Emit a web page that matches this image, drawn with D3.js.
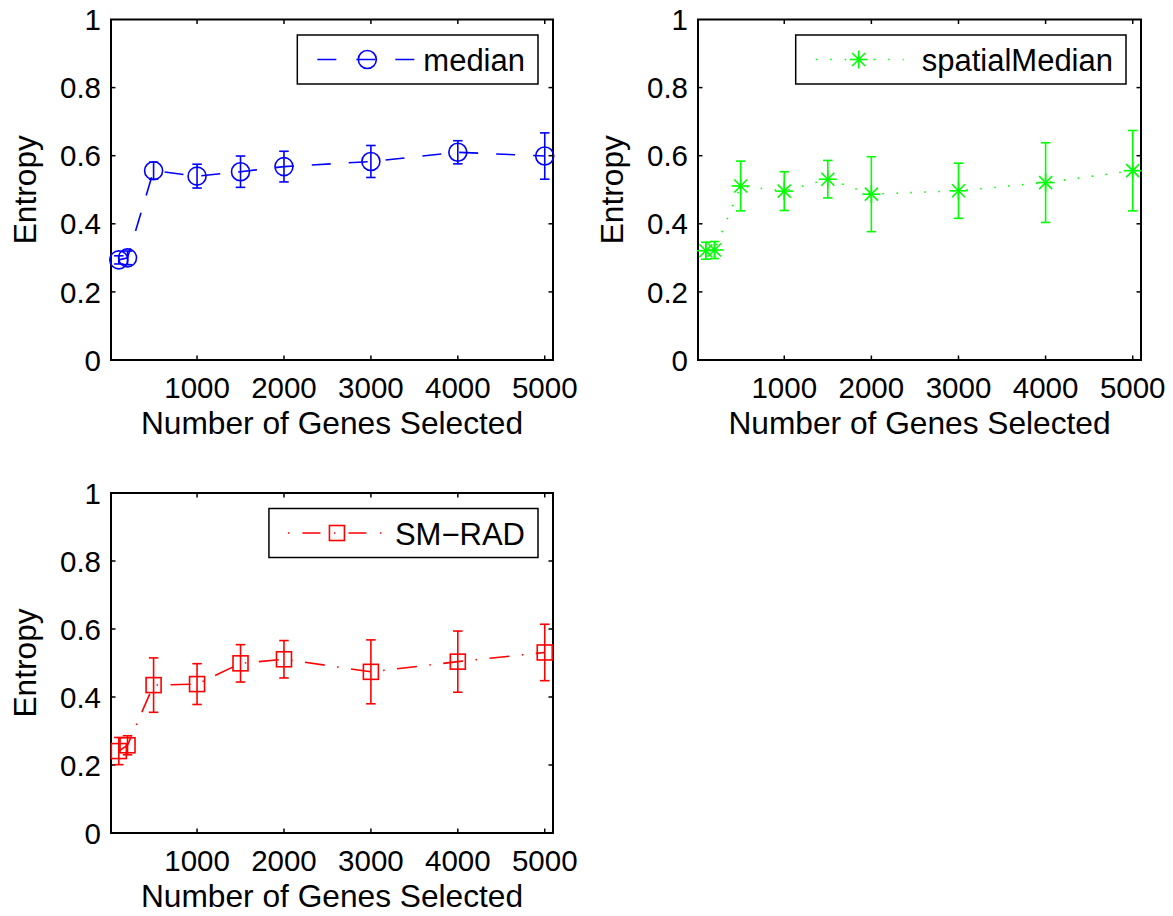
<!DOCTYPE html>
<html><head><meta charset="utf-8">
<script src="https://cdn.jsdelivr.net/npm/d3@7"></script>
<style>
  body { margin: 0; background: #fff; }
  svg { display: block; }
  text { font-family: "Liberation Sans", Arial, Helvetica, sans-serif; fill: #000; }
</style>
</head><body>
<svg id="fig" width="1173" height="916"></svg>
<script>
/* ── Data ───────────────────────────────────────────────── */
const genes = [100, 200, 500, 1000, 1500, 2000, 3000, 4000, 5000];

const medianMean  = [0.294, 0.300, 0.556, 0.540, 0.553, 0.568, 0.583, 0.610, 0.599];
const medianErr   = [0.012, 0.020, 0.025, 0.035, 0.046, 0.045, 0.047, 0.034, 0.068];

const spatialMean = [0.321, 0.323, 0.511, 0.496, 0.531, 0.487, 0.497, 0.521, 0.556];
const spatialErr  = [0.025, 0.025, 0.073, 0.057, 0.055, 0.110, 0.081, 0.117, 0.118];

const smradMean   = [0.241, 0.258, 0.435, 0.438, 0.499, 0.511, 0.474, 0.504, 0.531];
const smradErr    = [0.040, 0.028, 0.080, 0.060, 0.055, 0.055, 0.094, 0.090, 0.083];

const yTicks = [0, 0.2, 0.4, 0.6, 0.8, 1];
const xTicks = [1000, 2000, 3000, 4000, 5000];
const xLabel = 'Number of Genes Selected';
const yLabel = 'Entropy';

/* ── Layout ─────────────────────────────────────────────── */
const panels = [
  { name: 'median',        mean: medianMean,  err: medianErr,  color: '#0000ff', marker: 'circle',
    dash: '19,18', legDash: '19,20', legX0: 20, legX1: 117, legM: 70,
    left: 111, right: 553, top: 19.5, bottom: 360 },
  { name: 'spatialMedian', mean: spatialMean, err: spatialErr, color: '#00ff00', marker: 'star',
    dash: '1.5,12.5', legDash: '1.5,13', legX0: 20, legX1: 108, legM: 63,
    left: 698, right: 1141, top: 19.5, bottom: 360 },
  { name: 'SM\u2212RAD',    mean: smradMean,   err: smradErr,   color: '#ff0000', marker: 'square',
    dash: '20,12.5,1.5,12.5', legDash: '1.5,13,18,13.5', legX0: 19, legX1: 114, legM: 68,
    left: 111, right: 553, top: 493, bottom: 833 }
];

const TICK_FS  = 29.5;
const LABEL_FS = 31.7;
const LEG_FS   = 31;
const LW       = 1.6;

const svg = d3.select('#fig');

function drawMarker(g, type, cx, cy, color) {
  if (type === 'circle') {
    g.append('circle').attr('cx', cx).attr('cy', cy).attr('r', 9)
      .attr('fill', 'none').attr('stroke', color).attr('stroke-width', LW);
  } else if (type === 'square') {
    g.append('rect').attr('x', cx - 7.5).attr('y', cy - 7.5)
      .attr('width', 15).attr('height', 15)
      .attr('fill', 'none').attr('stroke', color).attr('stroke-width', LW);
  } else {
    const a = 9, b = 6.5;
    const segs = [[-a, 0, a, 0], [0, -a, 0, a], [-b, -b, b, b], [-b, b, b, -b]];
    segs.forEach(s => {
      g.append('line')
        .attr('x1', cx + s[0]).attr('y1', cy + s[1])
        .attr('x2', cx + s[2]).attr('y2', cy + s[3])
        .attr('stroke', color).attr('stroke-width', LW);
    });
  }
}

panels.forEach(p => {
  const g = svg.append('g');

  const x = d3.scaleLinear().domain([10, 5095]).range([p.left, p.right]);
  const y = d3.scaleLinear().domain([0, 1]).range([p.bottom, p.top]);

  // axes box
  g.append('rect')
    .attr('x', p.left).attr('y', p.top)
    .attr('width', p.right - p.left).attr('height', p.bottom - p.top)
    .attr('fill', 'none').attr('stroke', '#000').attr('stroke-width', 2);

  // inward ticks on all four sides
  const TL = 4.5;
  yTicks.forEach(t => {
    if (t === 0 || t === 1) return;
    g.append('line').attr('x1', p.left).attr('x2', p.left + TL)
      .attr('y1', y(t)).attr('y2', y(t)).attr('stroke', '#000').attr('stroke-width', 1.5);
    g.append('line').attr('x1', p.right).attr('x2', p.right - TL)
      .attr('y1', y(t)).attr('y2', y(t)).attr('stroke', '#000').attr('stroke-width', 1.5);
  });
  xTicks.forEach(t => {
    g.append('line').attr('x1', x(t)).attr('x2', x(t))
      .attr('y1', p.bottom).attr('y2', p.bottom - TL).attr('stroke', '#000').attr('stroke-width', 1.5);
    g.append('line').attr('x1', x(t)).attr('x2', x(t))
      .attr('y1', p.top).attr('y2', p.top + TL).attr('stroke', '#000').attr('stroke-width', 1.5);
  });

  // tick labels
  g.selectAll('text.yt').data(yTicks).join('text').attr('class', 'yt')
    .attr('x', p.left - 10).attr('y', d => y(d))
    .attr('dy', '0.36em').attr('text-anchor', 'end')
    .attr('font-size', TICK_FS)
    .text(d => d3.format('~g')(d));

  g.selectAll('text.xt').data(xTicks).join('text').attr('class', 'xt')
    .attr('x', d => x(d)).attr('y', p.bottom + 38)
    .attr('text-anchor', 'middle')
    .attr('font-size', TICK_FS)
    .text(d => d);

  // axis labels
  g.append('text')
    .attr('x', (p.left + p.right) / 2).attr('y', p.bottom + 74)
    .attr('text-anchor', 'middle').attr('font-size', LABEL_FS)
    .text(xLabel);

  g.append('text')
    .attr('transform', `translate(${p.left - 75},${(p.top + p.bottom) / 2}) rotate(-90)`)
    .attr('text-anchor', 'middle').attr('font-size', LABEL_FS)
    .text(yLabel);

  // data line
  const pts = genes.map((gn, i) => [x(gn), y(p.mean[i])]);
  g.append('path')
    .attr('d', d3.line()(pts))
    .attr('fill', 'none').attr('stroke', p.color)
    .attr('stroke-width', LW).attr('stroke-dasharray', p.dash);

  // error bars
  const CAP = 4.75;
  genes.forEach((gn, i) => {
    const cx = x(gn), lo = y(p.mean[i] - p.err[i]), hi = y(p.mean[i] + p.err[i]);
    g.append('line').attr('x1', cx).attr('x2', cx).attr('y1', lo).attr('y2', hi)
      .attr('stroke', p.color).attr('stroke-width', LW);
    [lo, hi].forEach(yy => {
      g.append('line').attr('x1', cx - CAP).attr('x2', cx + CAP).attr('y1', yy).attr('y2', yy)
        .attr('stroke', p.color).attr('stroke-width', LW);
    });
  });

  // markers
  pts.forEach(([cx, cy]) => drawMarker(g, p.marker, cx, cy, p.color));

  // legend
  const leg = g.append('g');
  const box = leg.append('rect')
    .attr('fill', '#fff').attr('stroke', '#000').attr('stroke-width', 1.5);
  const txt = leg.append('text').attr('font-size', LEG_FS).text(p.name);
  const tw = txt.node().getComputedTextLength();
  const bw = 126 + tw + 13, bh = 49;
  const bx = p.right - 15 - bw, by = p.top + 15.5;
  box.attr('x', bx).attr('y', by).attr('width', bw).attr('height', bh);
  txt.attr('x', bx + 126).attr('y', by + 36);
  const ly = by + bh / 2;
  leg.append('line')
    .attr('x1', bx + p.legX0).attr('x2', bx + p.legX1)
    .attr('y1', ly).attr('y2', ly)
    .attr('stroke', p.color).attr('stroke-width', LW)
    .attr('stroke-dasharray', p.legDash);
  drawMarker(leg, p.marker, bx + p.legM, ly, p.color);
});
</script>
</body></html>
